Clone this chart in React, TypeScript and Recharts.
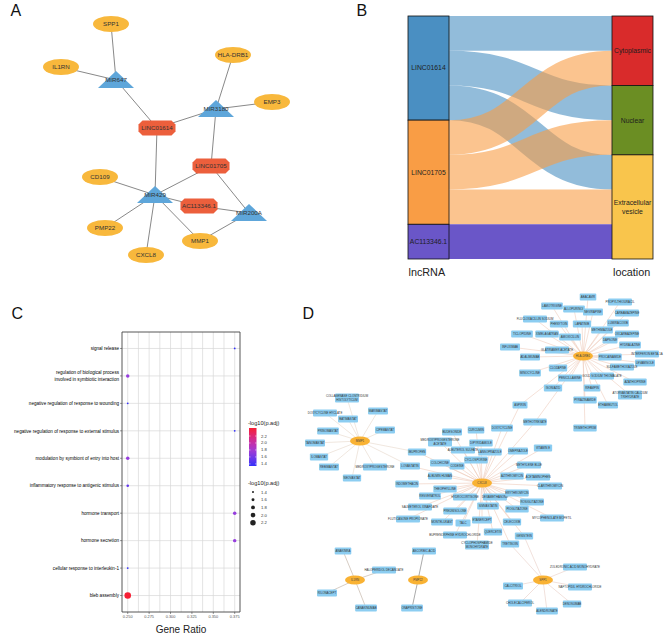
import React from 'react';
import { ScatterChart, Scatter, XAxis, YAxis, Sankey, CartesianGrid, ReferenceArea } from 'recharts';

const FONT = '"Liberation Sans", Arial, Helvetica, sans-serif';

/* ================= Panel A : lncRNA-miRNA-mRNA network ================= */
const aNodeNames = ['SPP1', 'IL1RN', 'MIR647', 'HLA-DRB1', 'EMP3', 'MIR3180', 'LINC01614', 'LINC01705', 'CD109', 'MIR429', 'AC113346.1', 'MIR200A', 'PMP22', 'MMP1', 'CXCL8'];
const aNodeKinds = ['mRNA', 'mRNA', 'miRNA', 'mRNA', 'mRNA', 'miRNA', 'lncRNA', 'lncRNA', 'mRNA', 'miRNA', 'lncRNA', 'miRNA', 'mRNA', 'mRNA', 'mRNA'];
const aNodeX = [111, 61, 116, 233, 272, 216, 157, 211, 100, 155, 199, 249, 105, 200, 146];
const aNodeY = [24, 67, 80, 55, 102, 109, 128, 166, 177, 195, 206, 213, 228, 241, 255];
const aEdges: [string, string][] = [
  ['SPP1', 'MIR647'], ['IL1RN', 'MIR647'], ['MIR647', 'LINC01614'], ['LINC01614', 'MIR3180'],
  ['MIR3180', 'HLA-DRB1'], ['MIR3180', 'EMP3'], ['MIR3180', 'LINC01705'], ['LINC01614', 'MIR429'],
  ['LINC01705', 'MIR429'], ['LINC01705', 'MIR200A'], ['CD109', 'MIR429'], ['MIR429', 'AC113346.1'],
  ['AC113346.1', 'MIR200A'], ['MIR429', 'PMP22'], ['MIR429', 'CXCL8'], ['MIR429', 'MMP1'], ['MMP1', 'MIR200A'],
];

/* ================= Panel B : Sankey ================= */
const sankeyNodeNames = ['LINC01614', 'LINC01705', 'AC113346.1', 'Cytoplasmic', 'Nuclear', 'Extracellular vesicle'];
const sankeySources = [0, 0, 0, 1, 1, 1, 2];
const sankeyTargets = [3, 4, 5, 3, 4, 5, 5];
const sankeyValues = [1, 1, 1, 1, 1, 1, 1];

/* ================= Panel C : GO dot plot ================= */
const goTerms = [
  'signal release',
  'regulation of biological process\ninvolved in symbiotic interaction',
  'negative regulation of response to wounding',
  'negative regulation of response to external stimulus',
  'modulation by symbiont of entry into host',
  'inflammatory response to antigenic stimulus',
  'hormone transport',
  'hormone secretion',
  'cellular response to interleukin-1',
  'bleb assembly',
];
const goGeneRatio = [0.375, 0.25, 0.25, 0.375, 0.25, 0.25, 0.375, 0.375, 0.25, 0.25];
const goNegLogP = [1.34, 1.72, 1.34, 1.34, 1.72, 1.52, 1.72, 1.72, 1.34, 2.43];
const goXTicks = [0.25, 0.275, 0.3, 0.325, 0.35, 0.375];
const goGridX = [0.25, 0.2625, 0.275, 0.2875, 0.3, 0.3125, 0.325, 0.3375, 0.35, 0.3625, 0.375];
const goGridY = [1, 2, 3, 4, 5, 6, 7, 8, 9, 10];
const legendBreaks = [2.2, 2.0, 1.8, 1.6, 1.4];
const sizeBreaks = [1.4, 1.6, 1.8, 2.0, 2.2];
const GO_X_DOMAIN: [number, number] = [0.2433, 0.3812];

/* ================= Panel D : drug-gene network ================= */
const dHubNames = ['HLA-DRB1', 'CXCL8', 'MMP1', 'IL1RN', 'PMP22', 'SPP1'];
const dHubX = [583, 482, 360, 355, 418, 543];
const dHubY = [356, 483, 441, 580, 580, 580];
const dDrugs: [string, number, number, string][] = [
  ['ABACAVIR', 588, 297, 'HLA-DRB1'],
  ['LAMOTRIGINE', 552, 306, 'HLA-DRB1'],
  ['ALLOPURINOL', 574, 309, 'HLA-DRB1'],
  ['NEVIRAPINE', 593, 312, 'HLA-DRB1'],
  ['PROPYLTHIOURACIL', 620, 302, 'HLA-DRB1'],
  ['CARBAMAZEPINE', 627, 313, 'HLA-DRB1'],
  ['FLUCLOXACILLIN SODIUM', 535, 319, 'HLA-DRB1'],
  ['PHENYTOIN', 559, 324, 'HLA-DRB1'],
  ['LAPATINIB', 582, 324, 'HLA-DRB1'],
  ['LUMIRACOXIB', 618, 323, 'HLA-DRB1'],
  ['TICLOPIDINE', 522, 334, 'HLA-DRB1'],
  ['XIMELAGATRAN', 547, 334, 'HLA-DRB1'],
  ['AMOXICILLIN', 570, 337, 'HLA-DRB1'],
  ['METHIMAZOLE', 602, 330, 'HLA-DRB1'],
  ['OXCARBAZEPINE', 627, 334, 'HLA-DRB1'],
  ['INFLIXIMAB', 510, 347, 'HLA-DRB1'],
  ['GLATIRAMER ACETATE', 557, 350, 'HLA-DRB1'],
  ['DAPSONE', 610, 340, 'HLA-DRB1'],
  ['HYDRALAZINE', 630, 345, 'HLA-DRB1'],
  ['ADALIMUMAB', 530, 357, 'HLA-DRB1'],
  ['PROCAINAMIDE', 610, 357, 'HLA-DRB1'],
  ['INTERFERON BETA-1A', 647, 354, 'HLA-DRB1'],
  ['LEVAMISOLE', 645, 363, 'HLA-DRB1'],
  ['CLOZAPINE', 558, 368, 'HLA-DRB1'],
  ['MINOCYCLINE', 530, 373, 'HLA-DRB1'],
  ['SULFAMETHOXAZOLE', 622, 367, 'HLA-DRB1'],
  ['PENICILLAMINE', 570, 378, 'HLA-DRB1'],
  ['GOLD SODIUM THIOMALATE', 602, 376, 'HLA-DRB1'],
  ['AZATHIOPRINE', 635, 382, 'HLA-DRB1'],
  ['ISONIAZID', 553, 388, 'HLA-DRB1'],
  ['RIFAMPIN', 592, 388, 'HLA-DRB1'],
  ['ATORVASTATIN CALCIUM\nTRIHYDRATE', 630, 395, 'HLA-DRB1'],
  ['PYRAZINAMIDE', 585, 400, 'HLA-DRB1'],
  ['ETHAMBUTOL', 608, 405, 'HLA-DRB1'],
  ['TRIMETHOPRIM', 585, 428, 'HLA-DRB1'],
  ['ASPIRIN', 520, 405, 'HLA-DRB1|CXCL8'],
  ['METHOTREXATE', 535, 422, 'HLA-DRB1|CXCL8'],
  ['BUDESONIDE', 452, 432, 'CXCL8'],
  ['CURCUMIN', 476, 430, 'CXCL8'],
  ['DOXYCYCLINE', 502, 428, 'CXCL8'],
  ['MEDROXYPROGESTERONE\nACETATE', 440, 442, 'CXCL8'],
  ['DIPYRIDAMOLE', 481, 443, 'CXCL8'],
  ['ALBUTEROL SULFATE', 463, 450, 'CXCL8'],
  ['LANSOPRAZOLE', 490, 452, 'CXCL8'],
  ['OMEPRAZOLE', 518, 451, 'CXCL8'],
  ['VITAMIN E', 543, 448, 'CXCL8'],
  ['IBUPROFEN', 417, 452, 'CXCL8|MMP1'],
  ['COLCHICINE', 440, 463, 'CXCL8'],
  ['CODEINE', 457, 466, 'CXCL8'],
  ['CYCLOSPORINE', 476, 460, 'CXCL8'],
  ['METHYLENE BLUE', 529, 465, 'CXCL8'],
  ['LOVASTATIN', 410, 466, 'CXCL8|MMP1'],
  ['ALBUMIN HUMAN', 440, 476, 'CXCL8'],
  ['AZITHROMYCIN', 512, 476, 'CXCL8'],
  ['ACETAMINOPHEN', 538, 477, 'CXCL8'],
  ['CLARITHROMYCIN', 550, 486, 'CXCL8'],
  ['INDOMETHACIN', 407, 484, 'CXCL8'],
  ['THEOPHYLLINE', 445, 489, 'CXCL8'],
  ['RESVERATROL', 430, 496, 'CXCL8'],
  ['HYDROCORTISONE', 465, 497, 'CXCL8'],
  ['DEXAMETHASONE', 495, 497, 'CXCL8'],
  ['ERYTHROMYCIN', 517, 493, 'CXCL8'],
  ['ROSIGLITAZONE', 532, 502, 'CXCL8'],
  ['SIMVASTATIN', 488, 506, 'CXCL8'],
  ['PIOGLITAZONE', 517, 509, 'CXCL8'],
  ['SALMETEROL XINAFOATE', 420, 507, 'CXCL8'],
  ['PREDNISOLONE', 455, 511, 'CXCL8'],
  ['FLUTICASONE PROPIONATE', 408, 519, 'CXCL8'],
  ['MONTELUKAST', 442, 522, 'CXCL8'],
  ['TALC', 463, 523, 'CXCL8'],
  ['ETANERCEPT', 482, 520, 'CXCL8'],
  ['CELECOXIB', 512, 522, 'CXCL8'],
  ['MYCOPHENOLATE MOFETIL', 552, 518, 'CXCL8'],
  ['BUPRENORPHINE HYDROCHLORIDE', 455, 535, 'CXCL8'],
  ['QUERCETIN', 493, 532, 'CXCL8'],
  ['GENISTEIN', 524, 536, 'CXCL8|SPP1'],
  ['CYCLOPHOSPHAMIDE\nMONOHYDRATE', 477, 545, 'CXCL8'],
  ['TRETINOIN', 510, 544, 'CXCL8|SPP1'],
  ['COLLAGENASE CLOSTRIDIUM\nHISTOLYTICUM', 347, 398, 'MMP1'],
  ['DOXYCYCLINE HYCLATE', 325, 413, 'MMP1'],
  ['MARIMASTAT', 378, 411, 'MMP1'],
  ['BATIMASTAT', 348, 419, 'MMP1'],
  ['PRINOMASTAT', 328, 431, 'MMP1'],
  ['CIPEMASTAT', 385, 430, 'MMP1'],
  ['TANOMASTAT', 315, 443, 'MMP1'],
  ['ILOMASTAT', 319, 457, 'MMP1'],
  ['REBIMASTAT', 329, 467, 'MMP1'],
  ['MEDROXYPROGESTERONE', 375, 467, 'MMP1'],
  ['NEOVASTAT', 352, 478, 'MMP1'],
  ['ANAKINRA', 343, 551, 'IL1RN'],
  ['HALOPERIDOL DECANOATE', 384, 570, 'IL1RN'],
  ['RILONACEPT', 327, 593, 'IL1RN'],
  ['CANAKINUMAB', 366, 608, 'IL1RN'],
  ['ASCORBIC ACID', 424, 551, 'PMP22'],
  ['ONAPRISTONE', 412, 608, 'PMP22'],
  ['ZOLEDRONIC ACID MONOHYDRATE', 575, 567, 'SPP1'],
  ['CALCITRIOL', 513, 586, 'SPP1'],
  ['NAFTOPIDIL HYDROCHLORIDE', 580, 587, 'SPP1'],
  ['CHOLECALCIFEROL', 520, 603, 'SPP1'],
  ['DENOSUMAB', 572, 604, 'SPP1'],
  ['ALENDRONATE', 547, 611, 'SPP1'],
];

/* ================= styles ================= */
const A_COLORS: Record<string, string> = { mRNA: '#f8b83c', miRNA: '#5ea6da', lncRNA: '#ec5f3c' };
const SANKEY_COLORS: Record<string, string> = {
  LINC01614: '#4a8fc2', LINC01705: '#f99d45', 'AC113346.1': '#6a56c8',
  Cytoplasmic: '#d92b2b', Nuclear: '#6b8e23', 'Extracellular vesicle': '#f9c54c',
};
const D_EDGE_COLORS: Record<string, string> = {
  'HLA-DRB1': '#efcdbd', CXCL8: '#efcbba', MMP1: '#e6d6ca', IL1RN: '#bcab9c', PMP22: '#707070', SPP1: '#e8cdc4',
};

const EmptyShape = () => <g />;

function octagon(cx: number, cy: number, w: number, h: number, c: number) {
  const l = cx - w / 2, r = cx + w / 2, t = cy - h / 2, b = cy + h / 2;
  return [[l + c, t], [r - c, t], [r, t + c], [r, b - c], [r - c, b], [l + c, b], [l, b - c], [l, t + c]]
    .map((p) => p.join(',')).join(' ');
}

/* generic network drawn with a ScatterChart: nodes are points, edges are 2-point scatter lines */
function NetworkChart(props: {
  left: number; top: number; width: number; height: number;
  nodes: any[]; edges: [string, string, string][]; edgeWidth: number; Shape: any;
}) {
  const { left, top, width, height, nodes, edges, edgeWidth, Shape } = props;
  const byName = new Map(nodes.map((n) => [n.name, n]));
  return (
    <div style={{ position: 'absolute', left, top, width, height }}>
      <ScatterChart width={width} height={height} margin={{ top: 0, right: 0, bottom: 0, left: 0 }}>
        <XAxis type="number" dataKey="x" domain={[left, left + width]} hide />
        <YAxis type="number" dataKey="y" domain={[top, top + height]} reversed hide />
        {edges.map(([a, b, color], i) => (
          <Scatter
            key={'e' + i}
            data={[byName.get(a), byName.get(b)]}
            line={{ stroke: color, strokeWidth: edgeWidth }}
            shape={EmptyShape}
            isAnimationActive={false}
          />
        ))}
        <Scatter data={nodes} shape={Shape} isAnimationActive={false} />
      </ScatterChart>
    </div>
  );
}

const ANode = (props: any) => {
  const { cx, cy, payload } = props;
  const fill = A_COLORS[payload.kind];
  let shape;
  if (payload.kind === 'mRNA') shape = <ellipse cx={cx} cy={cy} rx={18} ry={8} fill={fill} />;
  else if (payload.kind === 'miRNA')
    shape = <polygon points={`${cx},${cy - 9} ${cx + 18},${cy + 8} ${cx - 18},${cy + 8}`} fill={fill} />;
  else shape = <polygon points={octagon(cx, cy, 37, 15, 4)} fill={fill} />;
  return (
    <g>
      {shape}
      <text x={cx} y={cy + 2.1} textAnchor="middle" fontSize={6.2} fill="#333" fontFamily={FONT}>
        {payload.name}
      </text>
    </g>
  );
};

const DNode = (props: any) => {
  const { cx, cy, payload } = props;
  const lines: string[] = payload.name.split('\n');
  const fs = 2.9;
  if (payload.hub) {
    return (
      <g>
        <ellipse cx={cx} cy={cy} rx={10} ry={4.6} fill="#f9b233" />
        <text x={cx} y={cy + 1} textAnchor="middle" fontSize={fs} fill="#444" fontFamily={FONT}>{payload.name}</text>
      </g>
    );
  }
  const longest = Math.max(...lines.map((l) => l.length));
  const w = Math.min(24, Math.max(15, longest * 1.7 + 3));
  const h = lines.length > 1 ? 9 : 7;
  return (
    <g>
      <rect x={cx - w / 2} y={cy - h / 2} width={w} height={h} rx={1} fill="#8ccdf1" />
      <text x={cx} y={cy + 1 - (lines.length - 1) * 1.6} textAnchor="middle" fontSize={fs} fill="#333" fontFamily={FONT}>
        {lines.map((l, i) => (
          <tspan key={i} x={cx} dy={i === 0 ? 0 : 3.2}>{l}</tspan>
        ))}
      </text>
    </g>
  );
};

/* Sankey custom parts */
const SankeyNode = (props: any) => {
  const { x, y, width, height, payload } = props;
  const name: string = payload.name;
  const lines = name === 'Extracellular vesicle' ? ['Extracellular', 'vesicle'] : [name];
  const cx = x + width / 2;
  const cy = y + height / 2;
  return (
    <g>
      <rect x={x} y={y} width={width} height={height} fill={SANKEY_COLORS[name]} stroke="#111" strokeWidth={0.8} />
      <text x={cx} y={cy + 2.4 - (lines.length - 1) * 4.5} textAnchor="middle" fontSize={6.8} fill="#1e1e1e" fontFamily={FONT}>
        {lines.map((l, i) => (
          <tspan key={i} x={cx} dy={i === 0 ? 0 : 9}>{l}</tspan>
        ))}
      </text>
    </g>
  );
};

const SankeyLink = (props: any) => {
  const { sourceX, targetX, sourceY, targetY, sourceControlX, targetControlX, linkWidth, payload } = props;
  const src: string = payload.source.name;
  const op = src === 'AC113346.1' ? 1 : 0.6;
  return (
    <path
      d={`M${sourceX},${sourceY} C${sourceControlX},${sourceY} ${targetControlX},${targetY} ${targetX},${targetY}`}
      fill="none"
      stroke={SANKEY_COLORS[src]}
      strokeWidth={linkWidth}
      strokeOpacity={op}
    />
  );
};

/* Panel C colour / size scales (-log10 p.adj) */
const P_MIN = 1.34, P_MAX = 2.43;
const COLOR_STOPS: [number, number[]][] = [
  [0, [52, 48, 250]], [0.35, [150, 62, 222]], [0.65, [205, 45, 160]], [1, [246, 30, 52]],
];
function pColor(p: number) {
  const t = Math.max(0, Math.min(1, (p - P_MIN) / (P_MAX - P_MIN)));
  for (let i = 1; i < COLOR_STOPS.length; i++) {
    const [t1, c1] = COLOR_STOPS[i];
    const [t0, c0] = COLOR_STOPS[i - 1];
    if (t <= t1) {
      const f = (t - t0) / (t1 - t0);
      const c = c0.map((v, k) => Math.round(v + (c1[k] - v) * f));
      return `rgb(${c[0]},${c[1]},${c[2]})`;
    }
  }
  return 'rgb(246,30,52)';
}
const pRadius = (p: number) => 0.9 + (p - P_MIN) * 2.2;

const GoDot = (props: any) => {
  const { cx, cy, payload } = props;
  return <circle cx={cx} cy={cy} r={pRadius(payload.p)} fill={pColor(payload.p)} />;
};

const GoTick = (props: any) => {
  const { x, y, payload } = props;
  const label = goTerms[Math.round(payload.value) - 1];
  if (!label) return null;
  const lines = label.split('\n');
  return (
    <text x={x} y={y + 1.7 - (lines.length - 1) * 3.7} textAnchor="end" fontSize={4.6} fill="#000" fontFamily={FONT}>
      {lines.map((l, i) => (
        <tspan key={i} x={x} dy={i === 0 ? 0 : 7.4}>{l}</tspan>
      ))}
    </text>
  );
};

/* vertical grid (major + minor) positioned through the x axis scale */
const goVerticalGrid = (args: any) => {
  const xAxis = args && args.xAxis;
  if (xAxis && typeof xAxis.scale === 'function') {
    return goGridX.map((v) => xAxis.scale(v));
  }
  const off = args.offset;
  return goGridX.map((v) => off.left + ((v - GO_X_DOMAIN[0]) / (GO_X_DOMAIN[1] - GO_X_DOMAIN[0])) * off.width);
};

function GoLegend() {
  const barTop = 428, barBot = 466;
  const yOf = (v: number) => barBot - ((v - P_MIN) / (P_MAX - P_MIN)) * (barBot - barTop);
  const stops = [0, 0.2, 0.4, 0.6, 0.8, 1];
  return (
    <svg style={{ position: 'absolute', left: 240, top: 410, overflow: 'visible' }} width={90} height={130} viewBox="240 410 90 130">
      <defs>
        <linearGradient id="pgrad" x1="0" y1="1" x2="0" y2="0">
          {stops.map((s) => (
            <stop key={s} offset={s} stopColor={pColor(P_MIN + s * (P_MAX - P_MIN))} />
          ))}
        </linearGradient>
      </defs>
      <text x={248} y={424.5} fontSize={5.6} fill="#222" fontFamily={FONT}>-log10(p.adj)</text>
      <rect x={249} y={barTop} width={7.5} height={barBot - barTop} fill="url(#pgrad)" />
      {legendBreaks.map((v) => (
        <g key={v}>
          <line x1={249} x2={250.5} y1={yOf(v)} y2={yOf(v)} stroke="#fff" strokeWidth={0.5} />
          <line x1={255} x2={256.5} y1={yOf(v)} y2={yOf(v)} stroke="#fff" strokeWidth={0.5} />
          <text x={261} y={yOf(v) + 1.5} fontSize={4.2} fill="#333" fontFamily={FONT}>{v.toFixed(1)}</text>
        </g>
      ))}
      <text x={248} y={484.5} fontSize={5.6} fill="#222" fontFamily={FONT}>-log10(p.adj)</text>
      {sizeBreaks.map((v, i) => (
        <g key={v}>
          <circle cx={253} cy={492 + i * 7.7} r={pRadius(v)} fill="#222" />
          <text x={261} y={492 + i * 7.7 + 1.5} fontSize={4.2} fill="#333" fontFamily={FONT}>{v.toFixed(1)}</text>
        </g>
      ))}
    </svg>
  );
}

export default function App() {
  /* Panel A data */
  const aNodes = aNodeNames.map((name, i) => ({ name, kind: aNodeKinds[i], x: aNodeX[i], y: aNodeY[i] }));
  const aEdgeList: [string, string, string][] = aEdges.map(([a, b]) => [a, b, '#7a7a7a']);

  /* Panel B data */
  const sankeyData = {
    nodes: sankeyNodeNames.map((name) => ({ name })),
    links: sankeySources.map((s, i) => ({ source: s, target: sankeyTargets[i], value: sankeyValues[i] })),
  };

  /* Panel C data */
  const goData = goTerms.map((t, i) => ({ x: goGeneRatio[i], y: i + 1, p: goNegLogP[i] }));

  /* Panel D data */
  const dNodes = [
    ...dDrugs.map(([name, x, y]) => ({ name, x, y, hub: false })),
    ...dHubNames.map((name, i) => ({ name, x: dHubX[i], y: dHubY[i], hub: true })),
  ];
  const dEdgeList: [string, string, string][] = [];
  dDrugs.forEach(([name, , , hubs]) => {
    hubs.split('|').forEach((h) => dEdgeList.push([name, h, D_EDGE_COLORS[h]]));
  });

  return (
    <div style={{ position: 'absolute', left: 0, top: 0, width: 669, height: 634, background: '#fff', overflow: 'hidden', fontFamily: FONT }}>
      {/* Panel A */}
      <NetworkChart left={0} top={0} width={330} height={300} nodes={aNodes} edges={aEdgeList} edgeWidth={0.9} Shape={ANode} />

      {/* Panel B */}
      <div style={{ position: 'absolute', left: 330, top: 0, width: 339, height: 300 }}>
        <Sankey
          width={339}
          height={300}
          data={sankeyData}
          nodeWidth={41}
          nodePadding={0}
          iterations={0}
          margin={{ top: 16, right: 16, bottom: 41, left: 78 }}
          node={SankeyNode}
          link={SankeyLink}
        />
        <svg style={{ position: 'absolute', left: 0, top: 0 }} width={339} height={300}>
          <text x={78.5} y={275.5} fontSize={10.8} fill="#222" fontFamily={FONT}>lncRNA</text>
          <text x={283} y={275.5} fontSize={10.8} fill="#222" fontFamily={FONT}>location</text>
        </svg>
      </div>

      {/* Panel C */}
      <div style={{ position: 'absolute', left: 0, top: 300, width: 330, height: 334 }}>
        <ScatterChart width={330} height={334} margin={{ top: 32, right: 90, bottom: 0, left: 0 }}>
          <CartesianGrid
            stroke="#d9d9d9"
            strokeWidth={0.7}
            verticalCoordinatesGenerator={goVerticalGrid}
            horizontalValues={goGridY}
          />
          <XAxis
            type="number"
            dataKey="x"
            domain={GO_X_DOMAIN}
            allowDataOverflow
            ticks={goXTicks}
            tickFormatter={(v: number) => v.toFixed(3)}
            tick={{ fontSize: 3.9, fill: '#555', fontFamily: FONT }}
            tickSize={2}
            tickMargin={1}
            tickLine={{ stroke: '#333', strokeWidth: 0.5 }}
            axisLine={false}
            height={22}
            label={{ value: 'Gene Ratio', position: 'insideBottom', offset: 1, fontSize: 10, fill: '#222', fontFamily: FONT }}
          />
          <YAxis
            type="number"
            dataKey="y"
            domain={[0.4, 10.6]}
            reversed
            allowDataOverflow
            ticks={goGridY}
            tick={<GoTick />}
            tickSize={2}
            tickMargin={1}
            tickLine={{ stroke: '#333', strokeWidth: 0.5 }}
            axisLine={false}
            width={122}
          />
          <ReferenceArea x1={GO_X_DOMAIN[0]} x2={GO_X_DOMAIN[1]} y1={0.4} y2={10.6} fill="none" stroke="#444" strokeWidth={0.9} ifOverflow="visible" />
          <Scatter data={goData} shape={GoDot} isAnimationActive={false} />
        </ScatterChart>
      </div>
      <GoLegend />

      {/* Panel D */}
      <NetworkChart left={290} top={285} width={379} height={349} nodes={dNodes} edges={dEdgeList} edgeWidth={0.6} Shape={DNode} />

      {/* Panel letters */}
      <svg style={{ position: 'absolute', left: 0, top: 0, pointerEvents: 'none' }} width={669} height={634}>
        <text x={10.5} y={15.5} fontSize={16} fill="#111" fontFamily={FONT}>A</text>
        <text x={356.5} y={15.5} fontSize={16} fill="#111" fontFamily={FONT}>B</text>
        <text x={11.5} y={318.5} fontSize={16} fill="#111" fontFamily={FONT}>C</text>
        <text x={302.5} y={318.5} fontSize={16} fill="#111" fontFamily={FONT}>D</text>
      </svg>
    </div>
  );
}
